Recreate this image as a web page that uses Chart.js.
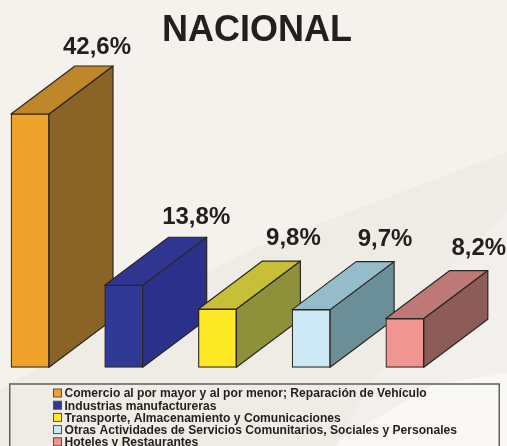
<!DOCTYPE html>
<html lang="es">
<head>
<meta charset="utf-8">
<title>NACIONAL</title>
<style>
html,body{margin:0;padding:0;width:507px;height:446px;overflow:hidden;background:#f5f2ee}
#wrap{position:relative;width:507px;height:446px}
#bg,#c{position:absolute;left:0;top:0}
</style>
<script src="https://cdn.jsdelivr.net/npm/chart.js@4"></script>
</head>
<body>
<div id="wrap">
<svg id="bg" width="507" height="446" viewBox="0 0 507 446">
  <polygon fill="#efece6" points="0,390 17,380 207,272 257,247 307,228 507,152 507,210 490,230 453,263 373,380 335,446 0,446"/>
  <polygon fill="#f2f0ec" points="507,210 490,230 453,263 383,367 335,446 345,437 433,385 507,373"/>
  <polygon fill="#f9f8f5" points="507,373 433,385 345,437 335,446 507,446"/>
</svg>
<canvas id="c" width="507" height="446"></canvas>
</div>
<script>
const titleText = "NACIONAL";
const categories = [
  "Comercio al por mayor y al por menor; Reparación de Vehículo",
  "Industrias manufactureras",
  "Transporte, Almacenamiento y Comunicaciones",
  "Otras Actividades de Servicios Comunitarios, Sociales y Personales",
  "Hoteles y Restaurantes"
];
const values = [42.6, 13.8, 9.8, 9.7, 8.2];
const frontColors = ["#f0a32c", "#303a96", "#fde925", "#cce8f4", "#f19593"];
const topColors = ["#bf872a", "#2f3590", "#c7bf35", "#95bccb", "#be7876"];
const sideColors = ["#8a6426", "#2b318a", "#8f913a", "#6b8f99", "#8d5c59"];

const edge = "#2b2622";
const ink = "#231f20";
const depthX = 64, depthY = 48;
const labelShift = [[67, -12], [72.5, -13], [76, -16], [74, -16], [74, -16]];

const extrude = {
  id: "extrude",
  beforeDatasetsDraw(chart) {
    const ctx = chart.ctx;
    const bars = chart.getDatasetMeta(0).data;
    ctx.save();
    ctx.lineWidth = 1.2;
    ctx.strokeStyle = edge;
    ctx.lineJoin = "round";
    bars.forEach((b, i) => {
      const l = b.x - b.width / 2, r = b.x + b.width / 2, t = b.y, bt = b.base;
      ctx.fillStyle = sideColors[i];
      ctx.beginPath();
      ctx.moveTo(r, t); ctx.lineTo(r + depthX, t - depthY);
      ctx.lineTo(r + depthX, bt - depthY); ctx.lineTo(r, bt); ctx.closePath();
      ctx.fill(); ctx.stroke();
      ctx.fillStyle = topColors[i];
      ctx.beginPath();
      ctx.moveTo(l, t); ctx.lineTo(l + depthX, t - depthY);
      ctx.lineTo(r + depthX, t - depthY); ctx.lineTo(r, t); ctx.closePath();
      ctx.fill(); ctx.stroke();
    });
    ctx.restore();
  },
  afterDatasetsDraw(chart) {
    const ctx = chart.ctx;
    const bars = chart.getDatasetMeta(0).data;
    ctx.save();
    ctx.fillStyle = ink;
    ctx.textAlign = "center";
    ctx.textBaseline = "alphabetic";
    ctx.font = 'bold 24px "Liberation Sans"';
    bars.forEach((b, i) => {
      const txt = values[i].toFixed(1).replace(".", ",") + "%";
      const x = b.x + labelShift[i][0];
      const y = b.y - depthY + labelShift[i][1];
      ctx.fillText(txt, x, y);
    });
    ctx.font = 'bold 36px "Liberation Sans"';
    ctx.fillText(titleText, 257, 40.5);
    ctx.restore();
  }
};

const boxLegend = {
  id: "boxLegend",
  afterDraw(chart) {
    const ctx = chart.ctx;
    ctx.save();
    ctx.strokeStyle = "#5f5f5f";
    ctx.lineWidth = 1.5;
    ctx.strokeRect(9.75, 384, 489.5, 80);
    ctx.font = 'bold 12.1px "Liberation Sans"';
    ctx.textAlign = "left";
    ctx.textBaseline = "alphabetic";
    categories.forEach((name, i) => {
      const base = 397.3 + i * 12.2;
      ctx.fillStyle = frontColors[i];
      ctx.fillRect(53.5, base - 8.3, 8, 8);
      ctx.strokeStyle = "#55504c";
      ctx.lineWidth = 1;
      ctx.strokeRect(53.5, base - 8.3, 8, 8);
      ctx.fillStyle = ink;
      ctx.fillText(name, 64.5, base);
    });
    ctx.restore();
  }
};

new Chart(document.getElementById("c"), {
  type: "bar",
  data: {
    labels: categories,
    datasets: [{
      data: values,
      backgroundColor: frontColors,
      borderColor: edge,
      borderWidth: 1.2,
      borderSkipped: false,
      barThickness: 38,
      clip: false
    }]
  },
  options: {
    responsive: false,
    animation: false,
    layout: { padding: { left: 30, right: 102.2, top: 114, bottom: 78.7 } },
    plugins: { legend: { display: false }, title: { display: false }, tooltip: { enabled: false } },
    scales: {
      x: { display: false, offset: false, grid: { display: false } },
      y: { display: false, min: 0, max: 42.6, grid: { display: false } }
    }
  },
  plugins: [extrude, boxLegend]
});
</script>
</body>
</html>
